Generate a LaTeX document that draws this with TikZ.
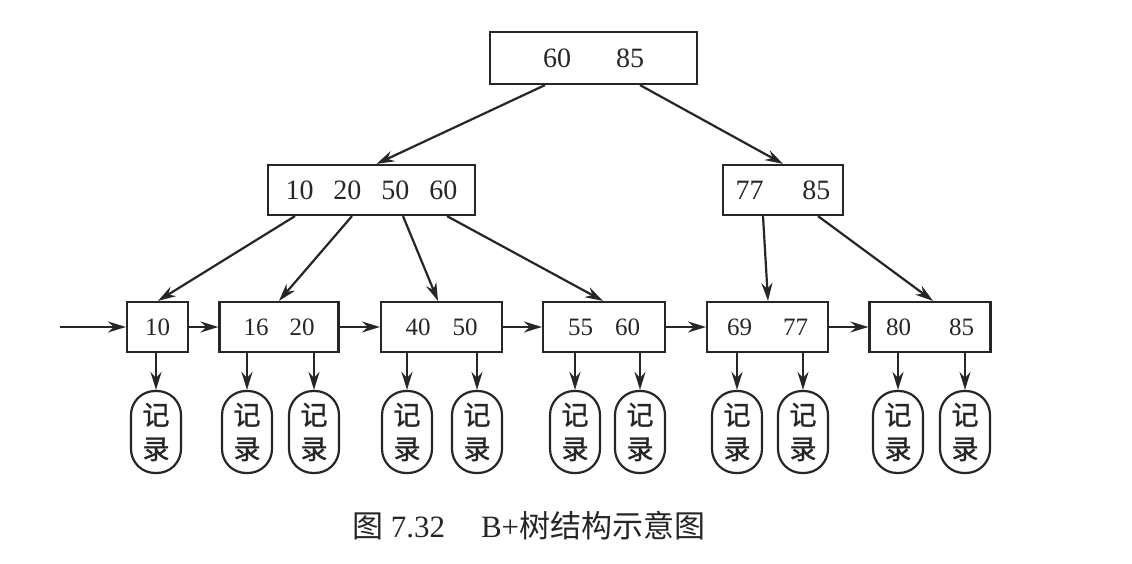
\documentclass[tikz,border=0pt]{standalone}
\usepackage{fontspec}
\setmainfont{Liberation Serif}
\newfontfamily\cjk{Noto Sans CJK SC}
\newfontfamily\cjkb[FakeBold=1.2]{Noto Sans CJK SC}
\usetikzlibrary{arrows.meta,calc}

\begin{document}
\begin{tikzpicture}[x=1pt,y=-1pt,line width=2.2pt,color=black!85,
  key/.style={draw,rectangle,minimum height=50pt,inner sep=0pt},
  rec/.style={draw,rectangle,rounded corners=24pt,minimum width=50pt,minimum height=82pt,
    align=center,inner sep=0pt,font=\cjkb\fontsize{27}{34}\selectfont},
  arr/.style={-{Stealth[length=18pt,width=11pt,inset=6pt]}},
  big/.style={font=\fontsize{28}{30}\selectfont},
  small/.style={font=\fontsize{25}{28}\selectfont}]
\useasboundingbox (0,0) rectangle (1132,564);
% index nodes
\node[key,big,minimum width=207pt,minimum height=52pt] (root) at (593.5,58) {60\hspace{45pt}85};
\node[key,big,minimum width=207pt] (inl) at (371.5,190) {10\hspace{20pt}20\hspace{20pt}50\hspace{20pt}60};
\node[key,big,minimum width=120pt] (inr) at (783,190) {77\hspace{39pt}85};
% leaves
\node[key,small,minimum width=61pt]  (l1) at (157.5,327) {10};
\node[key,small,minimum width=119pt] (l2) at (279,327)   {16\hspace{21pt}20};
\node[key,small,minimum width=121pt] (l3) at (441.5,327) {40\hspace{22pt}50};
\node[key,small,minimum width=122pt] (l4) at (604,327)   {55\hspace{22pt}60};
\node[key,small,minimum width=121pt] (l5) at (767.5,327) {69\hspace{31pt}77};
\node[key,small,minimum width=121pt] (l6) at (930,327)   {80\hspace{38pt}85};
\coordinate (in) at (60,327);
% tree
\draw[arr] ([xshift=-48.5pt]root.south) -- ([xshift=5pt]inl.north);
\draw[arr] ([xshift=46.5pt]root.south) -- ([xshift=0pt]inr.north);
\draw[arr] ([xshift=-76.5pt]inl.south) -- ([xshift=0.5pt]l1.north);
\draw[arr] ([xshift=-19.5pt]inl.south) -- ([xshift=0pt]l2.north);
\draw[arr] ([xshift=31.5pt]inl.south) -- ([xshift=-3.5pt]l3.north);
\draw[arr] ([xshift=75.5pt]inl.south) -- ([xshift=-1pt]l4.north);
\draw[arr] ([xshift=-20pt]inr.south) -- ([xshift=0.5pt]l5.north);
\draw[arr] ([xshift=35pt]inr.south) -- ([xshift=3pt]l6.north);
% leaf chain
\draw[arr] (in) -- (l1.west);
\foreach \a/\b in {l1/l2,l2/l3,l3/l4,l4/l5,l5/l6}
  \draw[arr] (\a.east) -- (\b.west);
% records
\foreach \x/\l [count=\i] in {156/l1,247/l2,314/l2,407/l3,477/l3,575/l4,640/l4,737/l5,803/l5,898/l6,965/l6}{
  \node[rec] (r\i) at (\x,432) {记\\录};
  \draw[arr] (r\i.north |- \l.south) -- (r\i.north);
}
\node[font=\cjk\fontsize{31}{34}\selectfont] (cap) at (529,526)
  {图 {\rmfamily 7.32}\hspace{36pt}{\rmfamily B+}树结构示意图};
\end{tikzpicture}
\end{document}
